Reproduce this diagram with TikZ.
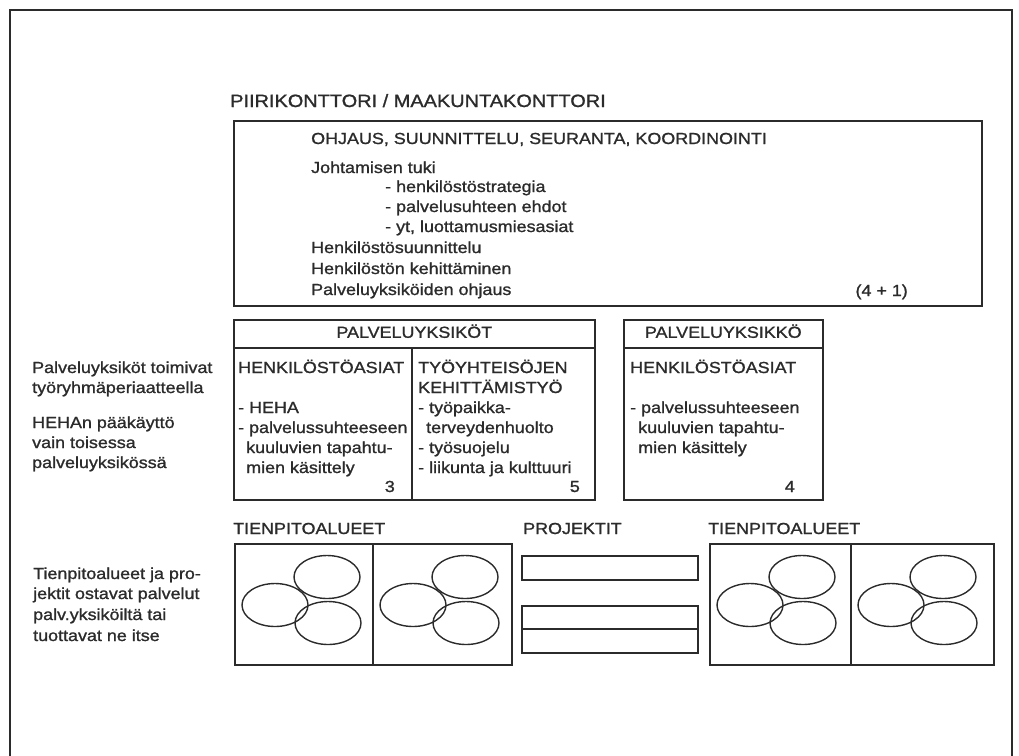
\documentclass[tikz,border=0pt]{standalone}
\usepackage{fontspec}
\setmainfont{Liberation Sans}[FakeStretch=1.12, FakeBold=1.2]
\usetikzlibrary{shapes.geometric}
\definecolor{ink}{HTML}{2B2B2B}
\newcommand\bodytxt{\fontsize{16}{20}\selectfont}
\newcommand\titletxt{\fontsize{17.8}{20}\selectfont}

\begin{document}
\begin{tikzpicture}[
  x=1pt, y=-1pt,
  frame/.style={draw=ink, line width=1.6pt, inner sep=0pt, anchor=north west},
  txt/.style={anchor=west, inner sep=0pt, text height=11.5pt, text depth=3.5pt, font=\bodytxt, text=ink},
  num/.style={txt, anchor=east},
  blob/.style={draw=ink, line width=1.4pt, ellipse, minimum width=66pt, minimum height=43pt, inner sep=0pt},
  rule/.style={draw=ink, line width=1.6pt}
]
  \useasboundingbox (0,0) rectangle (1019,755);
  % ulkoreunus
  \draw[rule] (10,760) -- (10,10) -- (1012,10) -- (1012,760);

  % piirikonttori
  \node[txt, font=\titletxt] (piiri) at (230,103) {PIIRIKONTTORI / MAAKUNTAKONTTORI};
  \node[frame, minimum width=748pt, minimum height=185pt] (ohjaus) at (233,120) {};
  \node[txt] (ohj-head) at (311,140) {OHJAUS, SUUNNITTELU, SEURANTA, KOORDINOINTI};
  \node[txt] (tuki) at (311,169) {Johtamisen tuki};
  \node[txt] (tuki1) at (385,188) {- henkilöstöstrategia};
  \node[txt] (tuki2) at (385,208) {- palvelusuhteen ehdot};
  \node[txt] (tuki3) at (385,228) {- yt, luottamusmiesasiat};
  \node[txt] (suunn) at (311,249) {Henkilöstösuunnittelu};
  \node[txt] (kehit) at (311,270) {Henkilöstön kehittäminen};
  \node[txt] (pohj) at (311,291) {Palveluyksiköiden ohjaus};
  \node[num] (ohj-n) at (908,292) {(4 + 1)};

  % palveluyksiköt
  \node[frame, minimum width=361pt, minimum height=28pt] (pyks) at (233,319) {};
  \node[txt, anchor=center] (pyks-head) at (pyks.center) {PALVELUYKSIKÖT};
  \node[frame, minimum width=178pt, minimum height=152pt] (pyks-a) at (233,347) {};
  \node[frame, minimum width=183pt, minimum height=152pt] (pyks-b) at (411,347) {};
  \node[txt] (ha-head) at (238,369) {HENKILÖSTÖASIAT};
  \node[txt] (ha1) at (238,409) {- HEHA};
  \node[txt] (ha2) at (238,429) {- palvelussuhteeseen};
  \node[txt] (ha3) at (246,449) {kuuluvien tapahtu-};
  \node[txt] (ha4) at (246,469) {mien käsittely};
  \node[num] (ha-n) at (395,488) {3};
  \node[txt] (ty-head) at (418,369) {TYÖYHTEISÖJEN};
  \node[txt] (ty-head2) at (418,389) {KEHITTÄMISTYÖ};
  \node[txt] (ty1) at (418,409) {- työpaikka-};
  \node[txt] (ty2) at (426,429) {terveydenhuolto};
  \node[txt] (ty3) at (418,449) {- työsuojelu};
  \node[txt] (ty4) at (418,469) {- liikunta ja kulttuuri};
  \node[num] (ty-n) at (580,488) {5};

  % palveluyksikkö
  \node[frame, minimum width=199pt, minimum height=28pt] (pyk) at (623,319) {};
  \node[txt, anchor=center] (pyk-head) at (pyk.center) {PALVELUYKSIKKÖ};
  \node[frame, minimum width=199pt, minimum height=152pt] (pyk-a) at (623,347) {};
  \node[txt] (pa-head) at (630,369) {HENKILÖSTÖASIAT};
  \node[txt] (pa1) at (630,409) {- palvelussuhteeseen};
  \node[txt] (pa2) at (638,429) {kuuluvien tapahtu-};
  \node[txt] (pa3) at (638,449) {mien käsittely};
  \node[num] (pa-n) at (795,488) {4};

  % vasen reuna
  \node[txt] (v1) at (32,369) {Palveluyksiköt toimivat};
  \node[txt] (v2) at (32,389) {työryhmäperiaatteella};
  \node[txt] (v3) at (32,424) {HEHAn pääkäyttö};
  \node[txt] (v4) at (32,444) {vain toisessa};
  \node[txt] (v5) at (32,464) {palveluyksikössä};
  \node[txt] (w1) at (33,575) {Tienpitoalueet ja pro-};
  \node[txt] (w2) at (33,595) {jektit ostavat palvelut};
  \node[txt] (w3) at (33,616) {palv.yksiköiltä tai};
  \node[txt] (w4) at (33,637) {tuottavat ne itse};

  % tienpitoalueet ja projektit
  \node[txt] (tie1-head) at (233,530) {TIENPITOALUEET};
  \node[frame, minimum width=138pt, minimum height=121pt] (tie1a) at (234,543) {};
  \node[frame, minimum width=139pt, minimum height=121pt] (tie1b) at (372,543) {};
  \node[txt] (proj-head) at (523,530) {PROJEKTIT};
  \node[frame, minimum width=176pt, minimum height=24pt] (proj1) at (521,555) {};
  \node[frame, minimum width=176pt, minimum height=23pt] (proj2) at (521,605) {};
  \node[frame, minimum width=176pt, minimum height=24pt] (proj3) at (521,628) {};
  \node[txt] (tie2-head) at (708,530) {TIENPITOALUEET};
  \node[frame, minimum width=141pt, minimum height=121pt] (tie2a) at (709,543) {};
  \node[frame, minimum width=143pt, minimum height=121pt] (tie2b) at (850,543) {};

  \foreach \c/\x in {tie1a/234, tie1b/372, tie2a/709, tie2b/850} {
    \node[blob] (\c-1) at (\x+93,577) {};
    \node[blob] (\c-2) at (\x+41,605) {};
    \node[blob] (\c-3) at (\x+94,623) {};
  }
\end{tikzpicture}
\end{document}
